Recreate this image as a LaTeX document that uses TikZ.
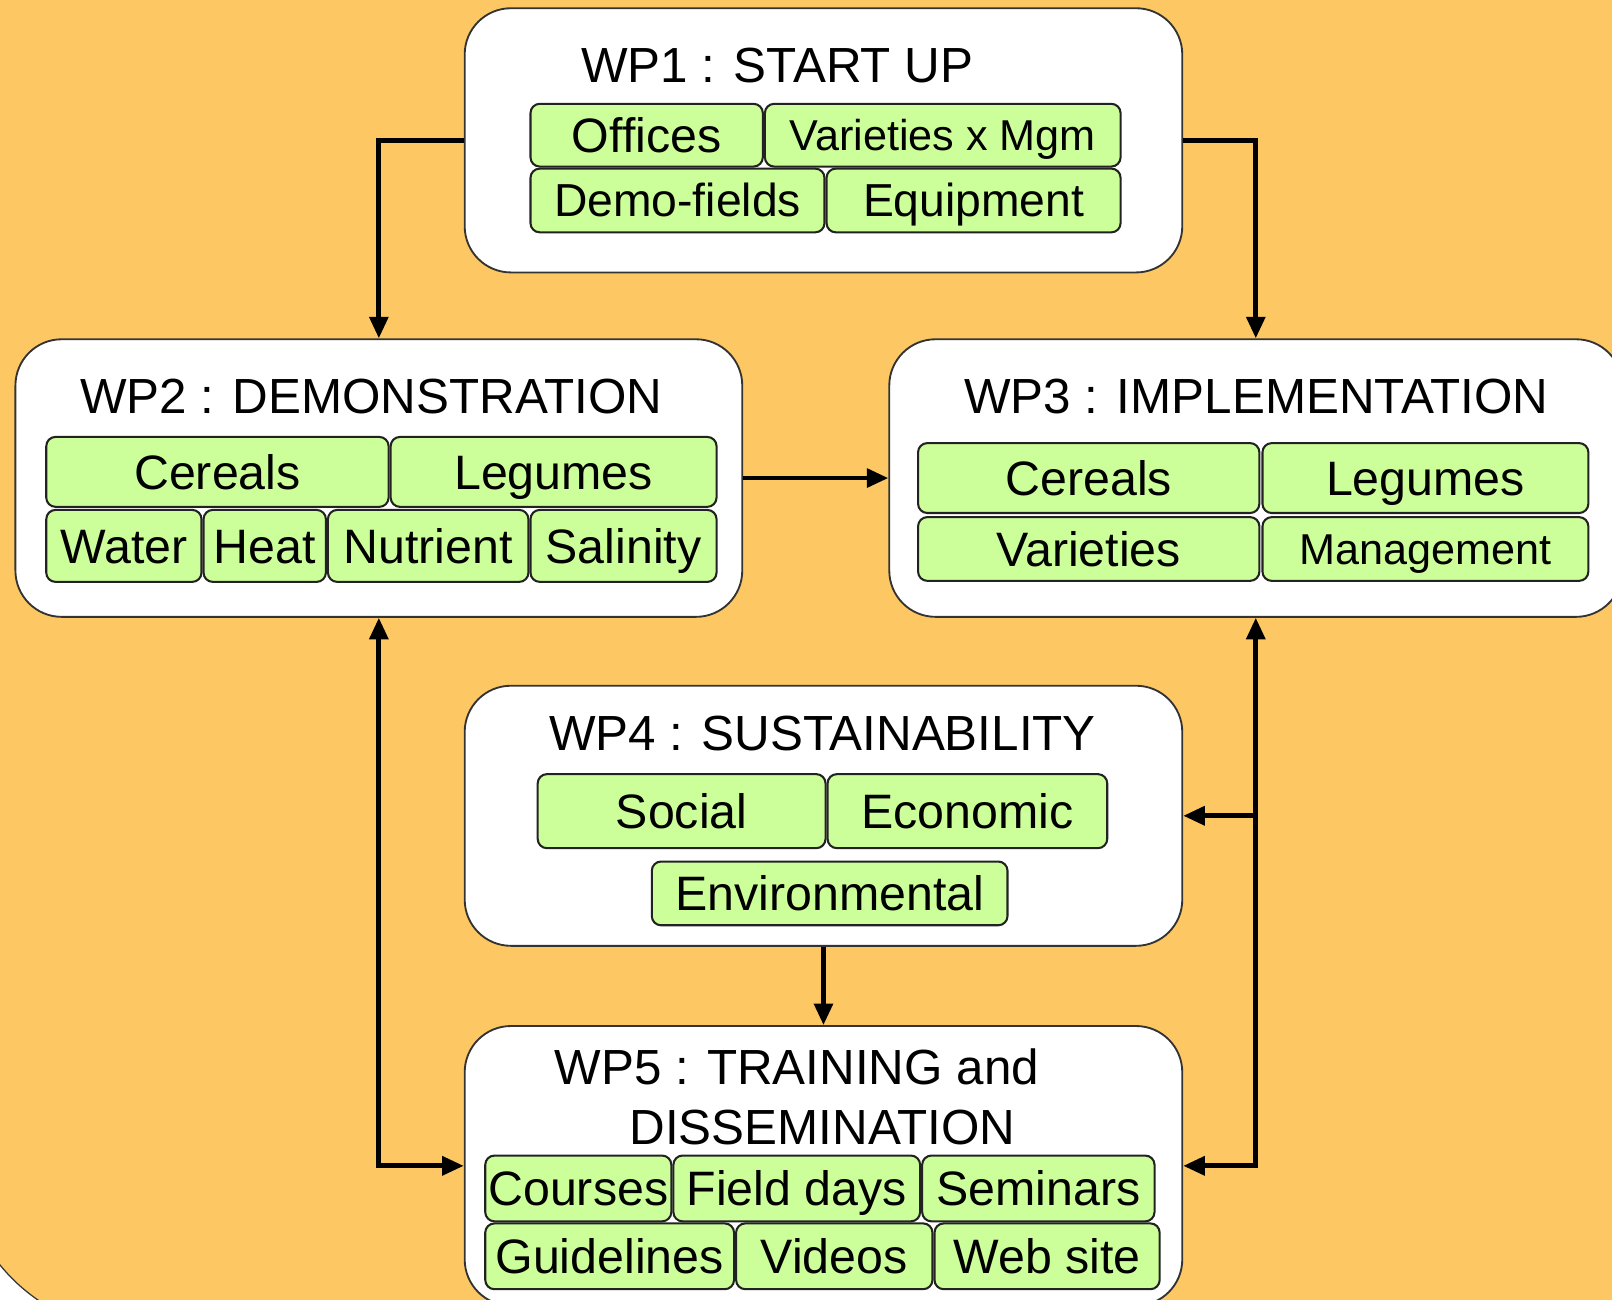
\documentclass[tikz,border=0pt]{standalone}
\usepackage{fontspec}
\setmainfont{Liberation Sans}
\usetikzlibrary{arrows.meta}
\definecolor{bgorange}{HTML}{FDC864}
\definecolor{lgreen}{HTML}{CCFF99}
\definecolor{edgegray}{HTML}{333333}
\definecolor{gedge}{HTML}{222222}
\tikzset{
  wpbox/.style={draw=edgegray, line width=1.8pt, fill=white, rounded corners=45pt, inner sep=0pt},
  gbox/.style={draw=gedge, line width=2pt, fill=lgreen, rounded corners=9pt, inner sep=0pt,
     font=\fontsize{47}{50}\selectfont, text height=34pt, text depth=0pt},
  gsmall/.style={font=\fontsize{42}{45}\selectfont, text height=30pt},
  gmid/.style={font=\fontsize{45}{48}\selectfont, text height=32pt},
  wptitle/.style={anchor=base, inner sep=0pt, font=\fontsize{48}{52}\selectfont},
  conn/.style={line width=4.6pt, -{Triangle[length=21pt,width=18pt]}},
  dconn/.style={line width=4.6pt, {Triangle[length=21pt,width=18pt]}-{Triangle[length=21pt,width=18pt]}}
}
\newcommand{\wpb}[5]{\node[wpbox, minimum width={#4pt-#2pt}, minimum height={#5pt-#3pt}] (#1) at ({(#2+#4)/2},{(#3+#5)/2}) {};}
\newcommand{\gbx}[7][]{\node[gbox,#1, minimum width={#5pt-#3pt}, minimum height={#6pt-#4pt}] (#2) at ({(#3+#5)/2},{(#4+#6)/2}) {#7};}
\begin{document}
\begin{tikzpicture}[x=1pt,y=-1pt]
\useasboundingbox (0,0) rectangle (1568,1264);
\fill[white] (0,0) rectangle (1568,1264);
\fill[bgorange] (-5,-5) -- (1575,-5) -- (1575,1270) -- (45,1270) .. controls (25,1257) and (10,1244) .. (-5,1224) -- cycle;
\draw[edgegray, line width=1.2pt] (45,1270) .. controls (25,1257) and (10,1244) .. (-5,1224);

% WP1
\wpb{wp1}{452}{8}{1150}{265}
\node[wptitle] (t1) at (756,80) {WP1 : START UP};
\gbx{offices}{516}{101}{742}{162}{Offices}
\gbx[gsmall]{varmgm}{744}{101}{1090}{162}{Varieties x Mgm}
\gbx[gmid]{demo}{516}{164}{802}{226}{Demo-fields}
\gbx[gmid]{equip}{804}{164}{1090}{226}{Equipment}

% WP2
\wpb{wp2}{15}{330}{722}{600}
\node[wptitle] (t2) at (361,402) {WP2 : DEMONSTRATION};
\gbx{cer2}{45}{425}{378}{493}{Cereals}
\gbx{leg2}{380}{425}{697}{493}{Legumes}
\gbx{water}{45}{496}{196}{566}{Water}
\gbx{heat}{198}{496}{317}{566}{Heat}
\gbx{nutr}{319}{496}{514}{566}{Nutrient}
\gbx{salin}{516}{496}{697}{566}{Salinity}

% WP3
\wpb{wp3}{865}{330}{1578}{600}
\node[wptitle] (t3) at (1222,402) {WP3 : IMPLEMENTATION};
\gbx{cer3}{893}{431}{1225}{499}{Cereals}
\gbx{leg3}{1228}{431}{1545}{499}{Legumes}
\gbx{vars}{893}{503}{1225}{565}{Varieties}
\gbx[gsmall]{mgmt}{1228}{503}{1545}{565}{Management}

% WP4
\wpb{wp4}{452}{667}{1150}{920}
\node[wptitle] (t4) at (800,730) {WP4 : SUSTAINABILITY};
\gbx{social}{523}{753}{803}{825}{Social}
\gbx{econ}{805}{753}{1077}{825}{Economic}
\gbx{envir}{634}{838}{980}{900}{Environmental}

% WP5
\wpb{wp5}{452}{998}{1150}{1270}
\node[wptitle] (t5a) at (775,1055) {WP5 : TRAINING and};
\node[wptitle] (t5b) at (800,1113) {DISSEMINATION};
\gbx{courses}{472}{1124}{653}{1188}{Courses}
\gbx{fdays}{655}{1124}{895}{1188}{Field days}
\gbx{semin}{897}{1124}{1123}{1188}{Seminars}
\gbx{guide}{472}{1190}{714}{1254}{Guidelines}
\gbx{videos}{716}{1190}{907}{1254}{Videos}
\gbx{web}{909}{1190}{1128}{1254}{Web site}

% connectors
\draw[conn] (wp1.west) -| (wp2.north);
\draw[conn] (wp1.east) -| (wp3.north);
\draw[conn] (wp2.east) -- (wp3.west);
\draw[conn] (wp4.south) -- (wp5.north);
\draw[dconn] (wp2.south) |- (wp5.west);
\draw[dconn] (wp3.south) |- (wp5.east);
\coordinate (br) at (wp3.south |- wp4.east);
\draw[conn] (br) -- (wp4.east);
\end{tikzpicture}
\end{document}
